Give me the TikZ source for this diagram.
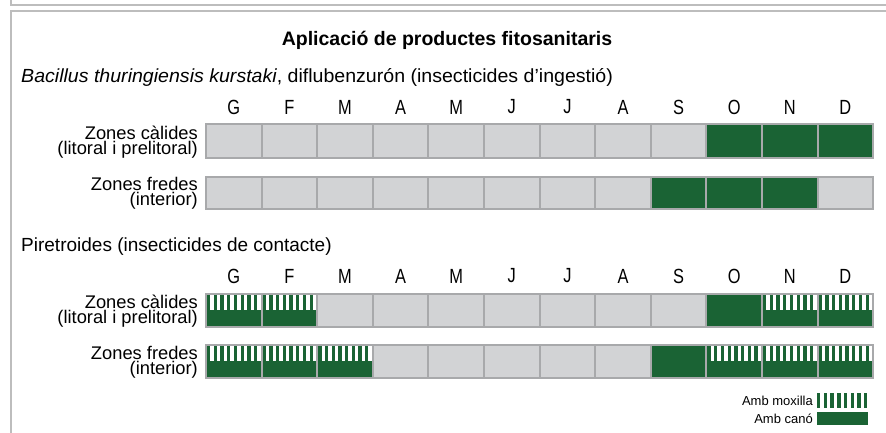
\documentclass[tikz,border=0pt]{standalone}
\usepackage{fontspec}
\setmainfont{Liberation Sans}
\newfontfamily\bacfont{Liberation Sans}[FakeStretch=1.03]
\newfontfamily\monfont{Liberation Sans}[FakeStretch=0.8]
\definecolor{grn}{HTML}{1A6334}
\definecolor{cellg}{HTML}{D2D3D5}
\definecolor{cellb}{HTML}{A8A9AB}
\definecolor{frm}{HTML}{BDBDBD}
\tikzset{
  cellbase/.style={draw=cellb, line width=2pt, outer sep=0pt, inner sep=0pt, anchor=north west, minimum width=55.6pt},
  cell0/.style={cellbase, fill=cellg},
  cell1/.style={cellbase, fill=grn},
  cell2/.style={cellbase, fill=grn},
  month/.style={font=\monfont\fontsize{20.5}{20.5}\selectfont, inner sep=0pt},
  rowlab/.style={font=\fontsize{18.3}{18.3}\selectfont, anchor=base east, inner sep=0pt},
  head/.style={font=\fontsize{19}{19}\selectfont, anchor=west, inner sep=0pt},
  legtxt/.style={font=\fontsize{13}{13}\selectfont, anchor=east, inner sep=0pt},
  frame/.style={draw=frm, line width=1.8pt}
}
\begin{document}
\begin{tikzpicture}[x=1pt, y=-1pt]
\useasboundingbox (0,0) rectangle (886,432);
% frames
\draw[frame] (11,0) -- (11,4.8) -- (887,4.8);
\draw[frame] (11,433) -- (11,11) -- (887,11);
% title
\node[font=\bfseries\fontsize{19.5}{19.5}\selectfont, inner sep=0pt] (title) at (447,40) {Aplicació de productes fitosanitaris};
\node[head, font=\bacfont\fontsize{19}{19}\selectfont] (h1) at (21,77) {\textit{Bacillus thuringiensis kurstaki}, diflubenzurón (insecticides d’ingestió)};
\node[head] (h2) at (21,247) {Piretroides (insecticides de contacte)};
% months
\foreach \m [count=\i from 0] in {G,F,M,A,M,J,J,A,S,O,N,D}{
  \pgfmathsetmacro{\xc}{206+55.6*(\i+0.5)}
  \node[month] (ma\i) at (\xc,107) {\m};
  \node[month] (mb\i) at (\xc,276) {\m};
}
% row labels
\node[rowlab] (l1a) at (198,139.2) {Zones càlides};
\node[rowlab] (l1b) at (198,154.5) {(litoral i prelitoral)};
\node[rowlab] (l2a) at (198,190.3) {Zones fredes};
\node[rowlab] (l2b) at (198,205.3) {(interior)};
\node[rowlab] (l3a) at (198,308.5) {Zones càlides};
\node[rowlab] (l3b) at (198,323.8) {(litoral i prelitoral)};
\node[rowlab] (l4a) at (198,359.3) {Zones fredes};
\node[rowlab] (l4b) at (198,374.3) {(interior)};
% cells
\foreach \r/\yt/\hh/\types in {
  1/124.3/33.4/{0,0,0,0,0,0,0,0,0,2,2,2},
  2/176.7/32.6/{0,0,0,0,0,0,0,0,2,2,2,0},
  3/294.3/32.4/{1,1,0,0,0,0,0,0,0,2,1,1},
  4/345.0/32.7/{1,1,1,0,0,0,0,0,2,1,1,1}}{
  \foreach \t [count=\i from 0] in \types {
    \pgfmathsetmacro{\xl}{206+55.6*\i}
    \node[cell\t, minimum height=\hh pt] (c\r-\i) at (\xl,\yt) {};
    \ifnum\t=1
      \foreach \k in {0,...,7}{
        \pgfmathsetmacro{\sx}{\xl+1+6.7*\k+3.3}
        \fill[white] (\sx,\yt+1) rectangle (\sx+3.4,\yt+16);
      }
    \fi
  }
}
% legend
\node[legtxt] (lt1) at (813,400.5) {Amb moxilla};
\node[legtxt] (lt2) at (813,418.5) {Amb canó};
\node[fill=white, inner sep=0pt, minimum width=51pt, minimum height=15pt, anchor=north west] (lb1) at (817,393) {};
\foreach \k in {0,...,7}{
  \fill[grn] (817+6.7*\k,393) rectangle (817+6.7*\k+3.4,408);
}
\node[fill=grn, inner sep=0pt, minimum width=51pt, minimum height=13pt, anchor=north west] (lb2) at (817,412) {};
\end{tikzpicture}
\end{document}
